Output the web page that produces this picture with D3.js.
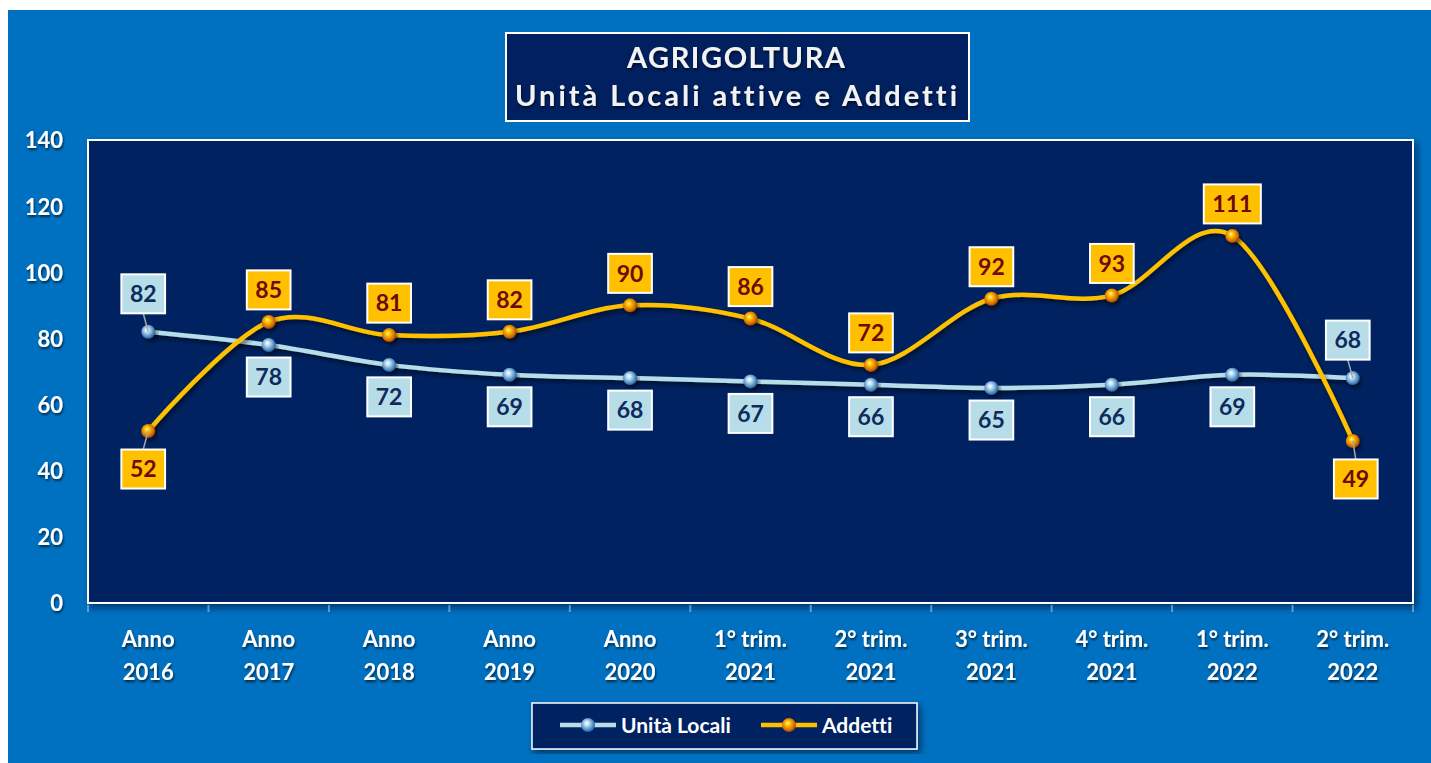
<!DOCTYPE html>
<html>
<head>
<meta charset="utf-8">
<script src="https://cdn.jsdelivr.net/npm/d3@7"></script>
<style>
	body { margin: 0; background: #ffffff; }
	text { font-family: Lato, "Open Sans", sans-serif; font-weight: bold; font-variant-ligatures: none; font-feature-settings: "liga" 0; }
</style>
</head>
<body>
<svg id="grafico" width="1431" height="763"></svg>
<script>
// dati
var categorie = ["Anno\n2016", "Anno\n2017", "Anno\n2018", "Anno\n2019", "Anno\n2020",
	"1° trim.\n2021", "2° trim.\n2021", "3° trim.\n2021", "4° trim.\n2021",
	"1° trim.\n2022", "2° trim.\n2022"];
var unitaLocali = [82, 78, 72, 69, 68, 67, 66, 65, 66, 69, 68];
var addetti = [52, 85, 81, 82, 90, 86, 72, 92, 93, 111, 49];
var tickY = [0, 20, 40, 60, 80, 100, 120, 140];
var titolo = ["AGRIGOLTURA", "Unità Locali attive e Addetti"];

var svg = d3.select("#grafico"),

margin = {
	top: 140,
	right: 18,
	bottom: 160,
	left: 88
},
width = 1431 - margin.left - margin.right,
height = 603 - margin.top;

var defs = svg.append("defs");

var ombra = defs.append("filter").attr("id", "ombra")
	.attr("x", "-20%").attr("y", "-20%").attr("width", "140%").attr("height", "160%");
ombra.append("feDropShadow").attr("dx", 2).attr("dy", 3).attr("stdDeviation", 2)
	.attr("flood-color", "#000").attr("flood-opacity", 0.55);

var ombraTesto = defs.append("filter").attr("id", "ombraTesto");
ombraTesto.append("feDropShadow").attr("dx", 1).attr("dy", 2).attr("stdDeviation", 1.2)
	.attr("flood-color", "#000").attr("flood-opacity", 0.6);

var ombraBox = defs.append("filter").attr("id", "ombraBox")
	.attr("x", "-5%").attr("y", "-5%").attr("width", "110%").attr("height", "115%");
ombraBox.append("feDropShadow").attr("dx", 3).attr("dy", 4).attr("stdDeviation", 3)
	.attr("flood-color", "#001030").attr("flood-opacity", 0.6);

function sfera(id, colori) {
	var grad = defs.append("radialGradient").attr("id", id)
		.attr("cx", "45%").attr("cy", "45%").attr("r", "60%")
		.attr("fx", "40%").attr("fy", "35%");
	var off = ["0%", "30%", "75%", "100%"];
	for (var i = 0; i < colori.length; i++) {
		grad.append("stop").attr("offset", off[i]).attr("stop-color", colori[i]);
	}
}
sfera("sferaBlu", ["#ffffff", "#b9dcf2", "#4a86c0", "#1d4d85"]);
sfera("sferaArancio", ["#fff7a0", "#ffc000", "#d36a08", "#7a3300"]);

// sfondo
svg.append("rect").attr("x", 8).attr("y", 10).attr("width", 1431 - 8).attr("height", 763 - 10)
	.attr("fill", "#0070c0");

// area del grafico
svg.append("rect")
	.attr("x", margin.left).attr("y", margin.top)
	.attr("width", width).attr("height", height)
	.attr("fill", "#002060")
	.attr("stroke", "#ffffff").attr("stroke-width", 2)
	.attr("filter", "url(#ombraBox)");

var g = svg.append("g").attr("transform", "translate(" + margin.left + "," + margin.top + ")");

var x = d3.scaleBand()
	.range([0, width])
	.padding(0);

var y = d3.scaleLinear()
	.range([height, 0]);

x.domain(categorie);
y.domain([0, 140]);

// asse Y
var asseY = g.append("g")
	.call(d3.axisLeft(y).tickValues(tickY).tickSize(0).tickPadding(25))
	.attr("filter", "url(#ombraTesto)");
asseY.select(".domain").remove();
asseY.selectAll("text")
	.attr("fill", "#ffffff")
	.attr("dy", "0.36em")
	.style("font-size", "22px")
	.style("font-family", "Lato, sans-serif");

// asse X con tacche fra le categorie
var asseX = g.append("g")
	.attr("transform", "translate(0," + height + ")")
	.call(d3.axisBottom(x).tickSize(0).tickFormat(""));
asseX.select(".domain").remove();
asseX.selectAll(".tick").each(function (d) {
	var righe = d.split("\n");
	var t = d3.select(this).append("text")
		.attr("fill", "#ffffff")
		.attr("text-anchor", "middle")
		.attr("filter", "url(#ombraTesto)")
		.style("font-size", "22px")
		.style("font-family", "Lato, sans-serif");
	t.append("tspan").attr("x", 0).attr("y", 44).text(righe[0]);
	t.append("tspan").attr("x", 0).attr("y", 77).text(righe[1]);
});
g.selectAll(".tacca")
	.data(categorie.concat(["fine"]))
	.enter().append("line")
	.attr("class", "tacca")
	.attr("x1", function (d, i) { return i < categorie.length ? x(d) : width; })
	.attr("x2", function (d, i) { return i < categorie.length ? x(d) : width; })
	.attr("y1", height + 2).attr("y2", height + 9)
	.attr("stroke", "#9fc3e6").attr("stroke-opacity", 0.6).attr("stroke-width", 2);

// linee
var linea = d3.line()
	.x(function (d, i) { return x(categorie[i]) + x.bandwidth() / 2; })
	.y(function (d) { return y(d); })
	.curve(d3.curveCatmullRom.alpha(0));

var serie = [
	{ nome: "Unità Locali", valori: unitaLocali, colore: "#b7dde8", sfera: "url(#sferaBlu)", testo: "#0f2a5c", fondo: "#b7dde8" },
	{ nome: "Addetti", valori: addetti, colore: "#ffc000", sfera: "url(#sferaArancio)", testo: "#6e0a0a", fondo: "#ffc000" }
];

serie.forEach(function (s) {
	g.append("path")
		.datum(s.valori)
		.attr("fill", "none")
		.attr("stroke", s.colore)
		.attr("stroke-width", 4.5)
		.attr("filter", "url(#ombra)")
		.attr("d", linea);
});

serie.forEach(function (s) {
	g.selectAll(".punto-" + s.nome.length)
		.data(s.valori)
		.enter().append("circle")
		.attr("cx", function (d, i) { return x(categorie[i]) + x.bandwidth() / 2; })
		.attr("cy", function (d) { return y(d); })
		.attr("r", 7)
		.attr("fill", s.sfera)
		.attr("filter", "url(#ombra)");
});

// etichette: la serie più alta sopra, l'altra sotto
serie.forEach(function (s, k) {
	var altra = serie[1 - k].valori;
	s.valori.forEach(function (v, i) {
		var cx = x(categorie[i]) + x.bandwidth() / 2,
			cy = y(v),
			sopra = v > altra[i],
			estremo = (i == 0 || i == categorie.length - 1),
			dist = estremo ? 38 : 32,
			dx = estremo ? (sopra || i == 0 ? -5 : 3) : 0,
			ly = sopra ? cy - dist : cy + dist;

		var eg = g.append("g");
		var t = eg.append("text")
			.attr("x", cx + dx).attr("y", ly)
			.attr("dy", "0.36em")
			.attr("text-anchor", "middle")
			.attr("fill", s.testo)
			.style("font-size", "23px")
			.text(v);
		var w = t.node().getComputedTextLength() + 17, h = 39;
		if (estremo) {
			eg.insert("line", "text")
				.attr("x1", cx).attr("y1", cy)
				.attr("x2", cx + dx).attr("y2", sopra ? ly + h / 2 : ly - h / 2)
				.attr("stroke", "#a6a6a6").attr("stroke-width", 1.5);
		}
		eg.insert("rect", "text")
			.attr("x", cx + dx - w / 2).attr("y", ly - h / 2)
			.attr("width", w).attr("height", h)
			.attr("fill", s.fondo)
			.attr("stroke", "#ffffff").attr("stroke-width", 2);
	});
});

// titolo
svg.append("rect")
	.attr("x", 506).attr("y", 33).attr("width", 463).attr("height", 88)
	.attr("fill", "#002060").attr("stroke", "#ffffff").attr("stroke-width", 2);
var tt = svg.append("text")
	.attr("text-anchor", "middle")
	.attr("fill", "#f2f2f2")
	.attr("filter", "url(#ombraTesto)")
	.style("font-size", "29px");
tt.append("tspan").attr("x", 736).attr("y", 68)
	.attr("textLength", 218).attr("lengthAdjust", "spacing").text(titolo[0]);
tt.append("tspan").attr("x", 736).attr("y", 106)
	.attr("textLength", 442).attr("lengthAdjust", "spacing").text(titolo[1]);

// legenda
var leg = svg.append("g");
leg.append("rect")
	.attr("x", 532).attr("y", 703).attr("width", 385).attr("height", 46)
	.attr("fill", "#002060").attr("stroke", "#ffffff").attr("stroke-width", 1.5)
	.attr("filter", "url(#ombraBox)");
var legX = [560, 761];
serie.forEach(function (s, k) {
	leg.append("line")
		.attr("x1", legX[k]).attr("x2", legX[k] + 56)
		.attr("y1", 725).attr("y2", 725)
		.attr("stroke", s.colore).attr("stroke-width", 4.5);
	leg.append("circle")
		.attr("cx", legX[k] + 28).attr("cy", 725).attr("r", 7)
		.attr("fill", s.sfera);
	leg.append("text")
		.attr("x", legX[k] + 61).attr("y", 725)
		.attr("dy", "0.36em")
		.attr("fill", "#ffffff")
		.style("font-size", "21px")
		.text(s.nome);
});
</script>
</body>
</html>
